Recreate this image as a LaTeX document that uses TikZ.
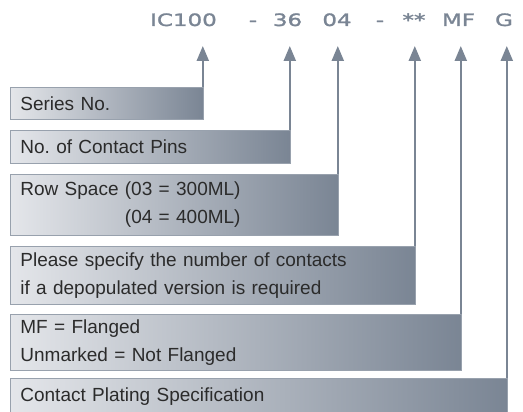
\documentclass[tikz,border=0pt]{standalone}
\usepackage{fontspec}
\setmainfont{Liberation Sans}
\newfontfamily\codefont[FakeStretch=1.35, FakeBold=1.6]{DejaVu Sans}
\usetikzlibrary{arrows.meta}
\definecolor{slate}{HTML}{7A8594}
\definecolor{mist}{HTML}{E4E6EA}
\definecolor{rim}{HTML}{98A1AD}
\definecolor{ink}{HTML}{2B2B2B}
\tikzset{
  spec/.style = {draw=rim, line width=0.8pt, left color=mist, right color=slate,
                 anchor=north west, align=left, inner xsep=10pt, inner ysep=2pt,
                 text=ink, font=\fontsize{19}{28}\selectfont, text width=#1},
  code/.style = {text=slate, font=\codefont\fontsize{17}{17}\selectfont,
                 anchor=base, inner sep=0pt},
  ar/.style   = {slate, line width=2.2pt, -{Triangle[length=15pt, width=12pt]}},
}
\frenchspacing

\begin{document}
\begin{tikzpicture}[x=1pt, y=-1pt]
  \useasboundingbox (0,0) rectangle (523,412);
  % ---- part number ----
  \node[code] (ic)    at (183.5,26) {IC100};
  \node[code] (dashA) at (253,26)   {-};
  \node[code] (pins)  at (287.5,26) {36};
  \node[code] (row)   at (337,26)   {04};
  \node[code] (dashB) at (380,26)   {-};
  \node[code] (stars) at (414,26)   {**};
  \node[code] (mf)    at (458.5,26) {MF};
  \node[code] (plt)   at (504,26)   {G};
  \coordinate (tip) at (0,46);

  % ---- descriptions ----
  \node[spec=173pt, minimum height=32] (ser) at (10,87) {Series No.};
  \node[spec=260pt, minimum height=33] (cnt) at (10,130) {No. of Contact Pins};
  \node[spec=308pt, minimum height=61] (rsp) at (10,174)
    {Row Space (03 = 300ML)\\\phantom{Row Space }(04 = 400ML)};
  \node[spec=385pt, minimum height=58] (dep) at (10,246)
    {Please specify the number of contacts\\if a depopulated version is required};
  \node[spec=431pt, minimum height=56] (flg) at (10,314)
    {MF = Flanged\\Unmarked = Not Flanged};
  \node[spec=477pt, minimum height=36] (cps) at (10,378) {Contact Plating Specification};

  % ---- pointers ----
  \foreach \b in {ser, cnt, rsp, dep, flg, cps}
    \draw[ar] ([xshift=-1pt]\b.north east) -- ([xshift=-1pt]\b.north east |- tip);
\end{tikzpicture}
\end{document}
